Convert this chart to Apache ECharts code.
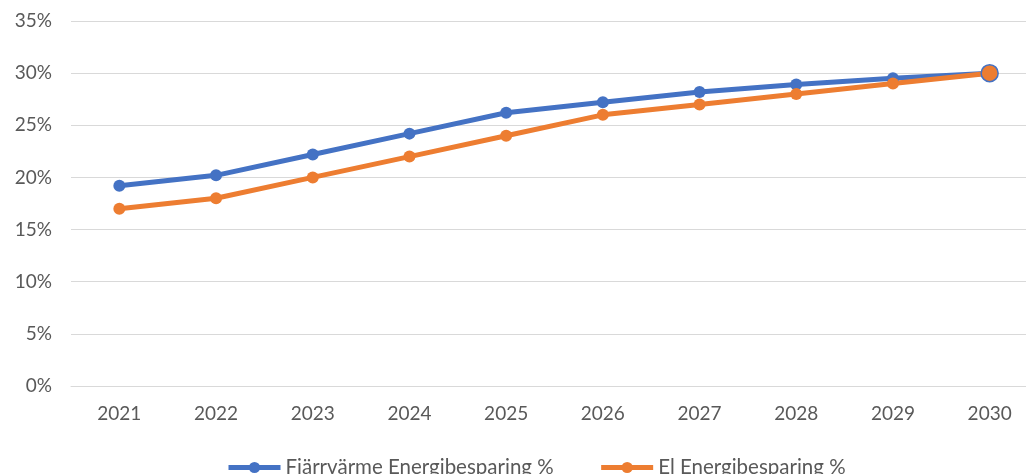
<!DOCTYPE html>
<html><head><meta charset="utf-8">
<script src="https://cdn.jsdelivr.net/npm/echarts@6/dist/echarts.min.js"></script>
<style>html,body{margin:0;padding:0;background:#fff}#c{width:1026px;height:474px}</style>
</head><body><div id="c"></div>
<script>
const years = ['2021','2022','2023','2024','2025','2026','2027','2028','2029','2030'];
const fjarrvarme = [19.2, 20.2, 22.2, 24.2, 26.2, 27.2, 28.2, 28.9, 29.5, 30.0];
const el = [17.0, 18.0, 20.0, 22.0, 24.0, 26.0, 27.0, 28.0, 29.0, 30.0];
const seriesNames = ['Fjärrvärme Energibesparing %', 'El Energibesparing %'];
const font = 'Lato, "Open Sans", sans-serif';
const chart = echarts.init(document.getElementById('c'), null, {renderer:'canvas'});
function mk(vals, color, name, last) {
  return {
    name: name, type: 'line',
    data: vals.map((v,i)=> i===vals.length-1 && last ? {value:v, symbolSize:17, itemStyle:{color:color, borderColor:'#4472C4', borderWidth:1.5}} : v),
    symbol: 'circle', symbolSize: 12, lineStyle: {width: 5, color: color},
    itemStyle: {color: color}, animation: false, smooth: false
  };
}
chart.setOption({
  animation: false,
  grid: {left: 71, top: 21, width: 967, height: 365, containLabel: false, outerBoundsMode: 'none'},
  legend: {top: 457, left: 226, padding: 0, itemGap: 45, itemWidth: 52, itemHeight: 14,
    lineStyle: {width: 5},
    textStyle: {color: '#595959', fontSize: 20.5, fontFamily: font},
    data: seriesNames},
  xAxis: {type: 'category', data: years, boundaryGap: true,
    axisLine: {lineStyle: {color: '#D9D9D9'}}, axisTick: {show: false},
    axisLabel: {color: '#595959', fontSize: 19, fontFamily: font, margin: 18}},
  yAxis: {type: 'value', min: 0, max: 35, interval: 5,
    axisLabel: {formatter: '{value}%', color: '#595959', fontSize: 19, fontFamily: font, margin: 19},
    splitLine: {lineStyle: {color: '#D9D9D9', width: 1}}, axisLine: {show: false}, axisTick: {show: false}},
  series: [mk(fjarrvarme, '#4472C4', seriesNames[0], false), mk(el, '#ED7D31', seriesNames[1], true)]
});
</script></body></html>
